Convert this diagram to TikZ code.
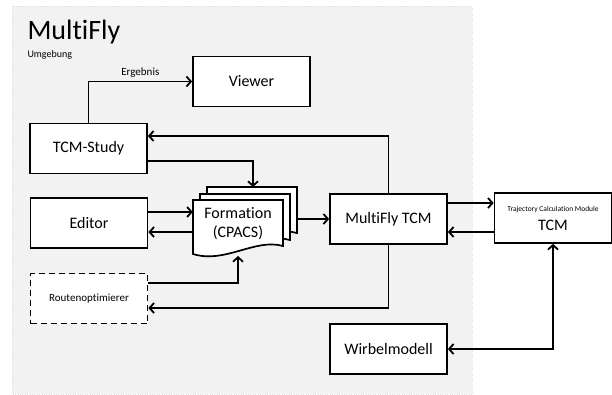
\documentclass[tikz,border=0pt]{standalone}
\usepackage{fontspec}
\setmainfont{Carlito}[Ligatures=CommonOff]
\usetikzlibrary{calc,arrows.meta}
\definecolor{bggray}{HTML}{F2F2F2}

\begin{document}
\begin{tikzpicture}[x=1pt, y=-1pt,
        box/.style={draw, line width=1.7pt, fill=white, minimum width=117pt, minimum height=50pt, font=\fontsize{16}{19}\selectfont},
        conn/.style={line width=1.8pt, -{Straight Barb[length=4.5pt,width=10pt]}},
        docpage/.style={draw, line width=1.7pt, fill=white}]
        \useasboundingbox (0,0) rectangle (612,394);
        \fill [bggray] (12,6) rectangle (472,394);
        \draw [gray!25, dotted] (12,6) rectangle (472,394);
        \node [anchor=base west, font=\fontsize{28}{30}\selectfont] (title) at (24,39) {MultiFly};
        \node [anchor=base west, font=\fontsize{10}{12}\selectfont] (env) at (24,57) {Umgebung};
        \node [box] (viewer) at (251.5,81.5) {Viewer};
        \node [box] (study) at (88.5,148.5) {TCM-Study};
        \node [box] (editor) at (89,223) {Editor};
        \node [box, dash pattern=on 6pt off 4pt, font=\fontsize{11}{13}\selectfont] (router) at (89,298.5) {Routenoptimierer};
        \node [box] (mftcm) at (388.5,219) {MultiFly TCM};
        \node [box, align=center] (tcm) at (553,218) {{\fontsize{7.5}{9}\selectfont Trajectory Calculation Module}\\TCM};
        \node [box] (wirbel) at (388.5,349) {Wirbelmodell};
        \foreach \dx/\dy in {14/-13, 7/-6, 0/0}
            \draw [docpage] ($(193,200)+(\dx,\dy)$) -- ++(90,0) -- ++(0,46)
                .. controls ++(-28,-8) and ++(32,10) .. ++(-90,8) -- cycle;
        \node [align=center, minimum width=90pt, minimum height=46pt, font=\fontsize{16}{19}\selectfont] (formation) at (238,224) {Formation\\(CPACS)};
        \coordinate (fmtop) at (253,187);
        \coordinate (fmout) at (297,219);
        \coordinate (fmbot) at (238,256);
        \draw [conn] (study.north) |- node [above, pos=0.75, font=\fontsize{11}{13}\selectfont] {Ergebnis} (viewer.west);
        \draw [conn] (mftcm.north) |- ([yshift=12.5pt]study.east);
        \draw [conn] ([yshift=-12.5pt]study.east) -| (fmtop);
        \draw [conn] ([yshift=11pt]editor.east) -- ([yshift=11pt]editor.east -| formation.west);
        \draw [conn] ([yshift=-9pt]editor.east -| formation.west) -- ([yshift=-9pt]editor.east);
        \draw [conn] ([yshift=15.5pt]router.east) -| (fmbot);
        \draw [conn] (mftcm.south) |- ([yshift=-9.5pt]router.east);
        \draw [conn] (fmout) -- (mftcm.west);
        \draw [conn] ([yshift=16pt]mftcm.east) -- ([yshift=16pt]mftcm.east -| tcm.west);
        \draw [conn] ([yshift=-14pt]tcm.west) -- ([yshift=-14pt]tcm.west -| mftcm.east);
        \draw [conn, {Straight Barb[length=4.5pt,width=10pt]}-{Straight Barb[length=4.5pt,width=10pt]}] (wirbel.east) -| (tcm.south);
    \end{tikzpicture}
\end{document}
